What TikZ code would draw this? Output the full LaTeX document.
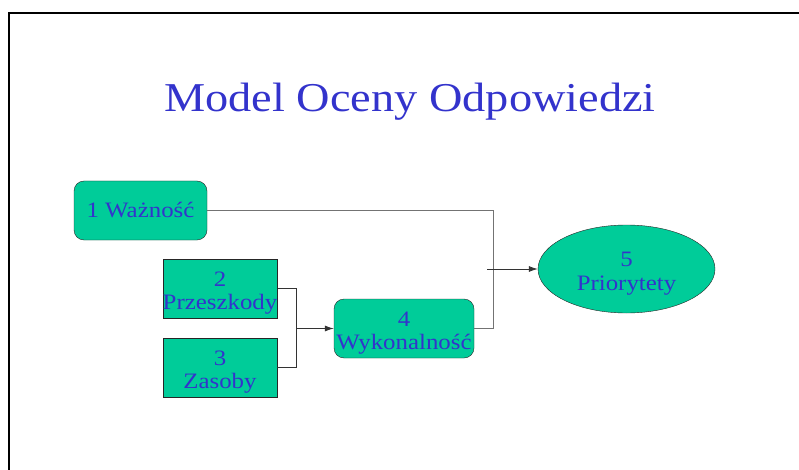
\documentclass[tikz,border=0pt]{standalone}
\usepackage{fontspec}
\setmainfont[FakeStretch=1.13]{Liberation Serif}
\usepackage{tikz}
\usetikzlibrary{arrows.meta, shapes.geometric}
\usepackage{xcolor}
\definecolor{boxgreen}{RGB}{0,204,153}
\definecolor{txtblue}{RGB}{51,51,204}
\newcommand{\topstrut}{\rule{0pt}{24pt}}

\begin{document}
\begin{tikzpicture}[x=1pt, y=-1pt, >={Latex[length=9pt,width=6pt]},
    box/.style={draw=black!85, fill=boxgreen, text=txtblue, inner sep=0pt, align=center,
        font=\fontsize{22}{23.5}\selectfont, minimum height=59pt},
    rbox/.style={box, rounded corners=10pt},
    link/.style={draw=black!80, line width=0.8pt}]
        \useasboundingbox (0,0) rectangle (799,470);

        % frame
        \draw[line width=1.6pt] (9,470) -- (9,13) -- (799,13);

        % title
        \node[anchor=base, text=txtblue, font=\fontsize{41}{44}\selectfont] (title) at (410,112) {Model Oceny Odpowiedzi};

        % boxes
        \node[rbox, minimum width=133pt] (waz)  at (140.5,210.5) {1 Ważność};
        \node[box, minimum width=114pt]  (prze) at (220,288.5)   {\topstrut 2\\Przeszkody};
        \node[box, minimum width=114pt]  (zas)  at (220,367.5)   {\topstrut 3\\Zasoby};
        \node[rbox, minimum width=140pt] (wyk)  at (404,328.5)   {\topstrut 4\\Wykonalność};
        \node[box, ellipse, minimum width=177pt, minimum height=88pt] (prio) at (626.5,269) {\topstrut 5\\Priorytety};

        % joints
        \coordinate (join1) at (296,328.5);
        \coordinate (join2) at (493,269);
        \coordinate (start5) at (487,269);

        % connectors
        \draw[link, draw=black!55] (waz.east) -- (waz.east -| join2) -- (wyk.east -| join2) -- (wyk.east);
        \draw[link] (prze.east) -- (prze.east -| join1) -- (zas.east -| join1) -- (zas.east);
        \draw[link,->] (join1) -- (wyk.west);
        \draw[link,->] (start5) -- (prio.west);
    \end{tikzpicture}
\end{document}
